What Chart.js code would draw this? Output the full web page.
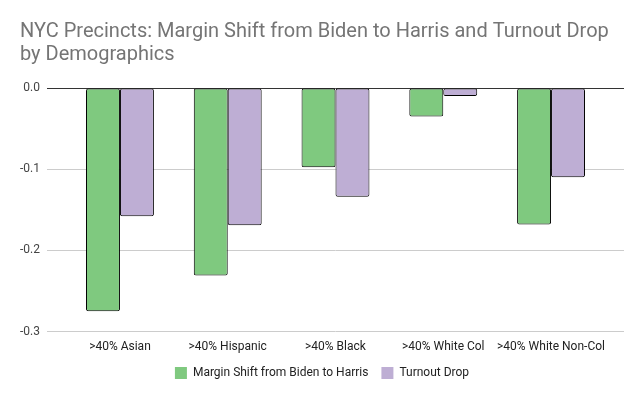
<!DOCTYPE html>
<html>
<head>
<meta charset="utf-8">
<script src="https://cdn.jsdelivr.net/npm/chart.js@4/dist/chart.umd.min.js"></script>
<style>
  html, body { margin: 0; padding: 0; background: #fff; }
  #wrap { width: 644px; height: 399px; }
</style>
</head>
<body>
<div id="wrap"><canvas id="c" width="644" height="399"></canvas></div>
<script>
const categories = ['>40% Asian', '>40% Hispanic', '>40% Black', '>40% White Col', '>40% White Non-Col'];
const marginShift = [-0.275, -0.231, -0.0975, -0.035, -0.168];
const turnoutDrop = [-0.158, -0.169, -0.134, -0.010, -0.110];
const seriesNames = ['Margin Shift from Biden to Harris', 'Turnout Drop'];
const titleLines = ['NYC Precincts: Margin Shift from Biden to Harris and Turnout Drop', 'by Demographics'];

const FONT = 'Roboto, "Noto Sans", Arial, sans-serif';

const toPoints = (arr) => arr.map((v, i) => ({ x: i, y: v }));

new Chart(document.getElementById('c'), {
  type: 'bar',
  data: {
    datasets: [
      {
        label: seriesNames[0],
        data: toPoints(marginShift),
        backgroundColor: '#7fc97f',
        borderColor: '#000',
        borderWidth: 1,
        borderRadius: 2,
        borderSkipped: false
      },
      {
        label: seriesNames[1],
        data: toPoints(turnoutDrop),
        backgroundColor: '#beaed4',
        borderColor: '#000',
        borderWidth: 1,
        borderRadius: 2,
        borderSkipped: false
      }
    ]
  },
  options: {
    responsive: false,
    animation: false,
    devicePixelRatio: 1,
    layout: { padding: { left: 20, right: 20, top: 0, bottom: 10 } },
    datasets: { bar: { categoryPercentage: 0.63, barPercentage: 1.0 } },
    scales: {
      x: {
        type: 'linear',
        offset: false,
        min: -0.677,
        max: 4.677,
        grid: { display: false, drawTicks: false, offset: false },
        border: { display: false },
        afterBuildTicks: (s) => { s.ticks = categories.map((c, i) => ({ value: i })); },
        afterFit: (s) => { s.height = s.height - 8; },
        ticks: {
          autoSkip: false,
          maxRotation: 0,
          minRotation: 0,
          padding: 8,
          color: '#222',
          font: { family: FONT, size: 12 },
          callback: (v) => categories[v]
        }
      },
      y: {
        min: -0.3,
        max: 0,
        afterFit: (s) => { s.width = 27; },
        border: { display: false },
        grid: {
          drawTicks: false,
          color: (ctx) => (ctx.tick && Math.abs(ctx.tick.value) < 1e-9 ? '#333' : '#ccc'),
          lineWidth: 1
        },
        ticks: {
          stepSize: 0.1,
          padding: 7,
          color: '#444',
          font: { family: FONT, size: 12 },
          callback: (v) => Number(v).toFixed(1)
        }
      }
    },
    plugins: {
      title: {
        display: true,
        text: titleLines,
        align: 'start',
        color: '#757575',
        font: { family: FONT, size: 20, weight: 'normal', lineHeight: 1.175 },
        padding: { top: 20, bottom: 21 }
      },
      legend: {
        position: 'bottom',
        labels: {
          boxWidth: 12,
          boxHeight: 12,
          padding: 13,
          color: '#222',
          font: { family: FONT, size: 12 },
          generateLabels: (chart) => chart.data.datasets.map((d, i) => ({
            text: d.label,
            fillStyle: d.backgroundColor,
            strokeStyle: d.backgroundColor,
            lineWidth: 0,
            datasetIndex: i,
            hidden: false,
            fontColor: '#222'
          }))
        }
      },
      tooltip: { enabled: false }
    }
  }
});
</script>
</body>
</html>
